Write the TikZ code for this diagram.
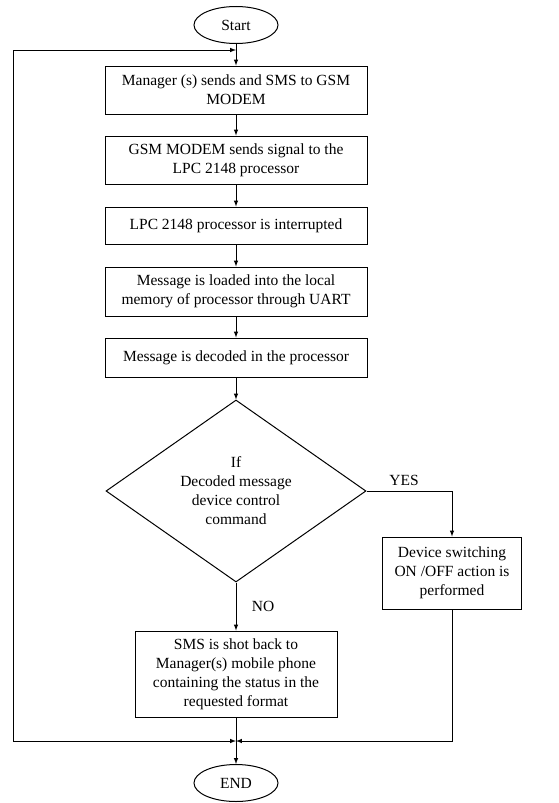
\documentclass[tikz,border=0pt]{standalone}
\usepackage{fontspec}
\setmainfont{Liberation Serif}
\usetikzlibrary{shapes.geometric}

\begin{document}
\begin{tikzpicture}[x=1pt, y=-1pt, >=latex, line width=1pt,
        every node/.style={font=\fontsize{15.5}{19}\selectfont, align=center},
        proc/.style={draw, rectangle, inner sep=2pt, minimum width=262pt},
        term/.style={draw, ellipse, minimum width=84pt, minimum height=37pt, inner sep=0pt},
        decision/.style={draw, diamond, aspect=1.43, minimum width=260pt, minimum height=182pt, inner sep=0pt}]
        \useasboundingbox (0,0) rectangle (558,803);

        % main column
        \node[term] (start) at (236,25) {Start};
        \node[proc, minimum height=48pt] (smsin) at (236,90) {Manager (s) sends and SMS to GSM\\MODEM};
        \node[proc, minimum height=48pt] (gsm) at (236,160) {GSM MODEM sends signal to the\\LPC 2148 processor};
        \node[proc, minimum height=37pt] (irq) at (236,225.5) {LPC 2148 processor is interrupted};
        \node[proc, minimum height=49pt] (load) at (236,291.5) {Message is loaded into the local\\memory of processor through UART};
        \node[proc, minimum height=39pt] (decode) at (236,357.5) {Message is decoded in the processor};
        \node[decision] (check) at (236,491) {If\\Decoded message\\device control\\command};

        % branches
        \node[proc, minimum width=139pt, minimum height=72pt] (switch) at (452,573) {Device switching\\ON /OFF action is\\performed};
        \node[proc, minimum width=202pt, minimum height=86pt] (reply) at (236,674) {SMS is shot back to\\Manager(s) mobile phone\\containing the status in the\\requested format};
        \node[term] (stop) at (236,783) {END};

        \coordinate (top) at (236,50);
        \coordinate (bot) at (236,741);
        \coordinate (corner) at (13,741);

        \draw[->] (start) -- (smsin);
        \draw[->] (smsin) -- (gsm);
        \draw[->] (gsm) -- (irq);
        \draw[->] (irq) -- (load);
        \draw[->] (load) -- (decode);
        \draw[->] (decode) -- (check);
        \draw[->] (check.east) -| node[pos=.22, above=2pt] {YES} (switch.north);
        \draw[->] (check.south) -- node[right=12pt] {NO} (reply.north);
        \draw[->] (reply) -- (stop);

        % loop back
        \draw[->] (switch.south) |- (bot);
        \draw[->] (corner) -- (bot);
        \draw[->] (corner) |- (top);

    \end{tikzpicture}
\end{document}
